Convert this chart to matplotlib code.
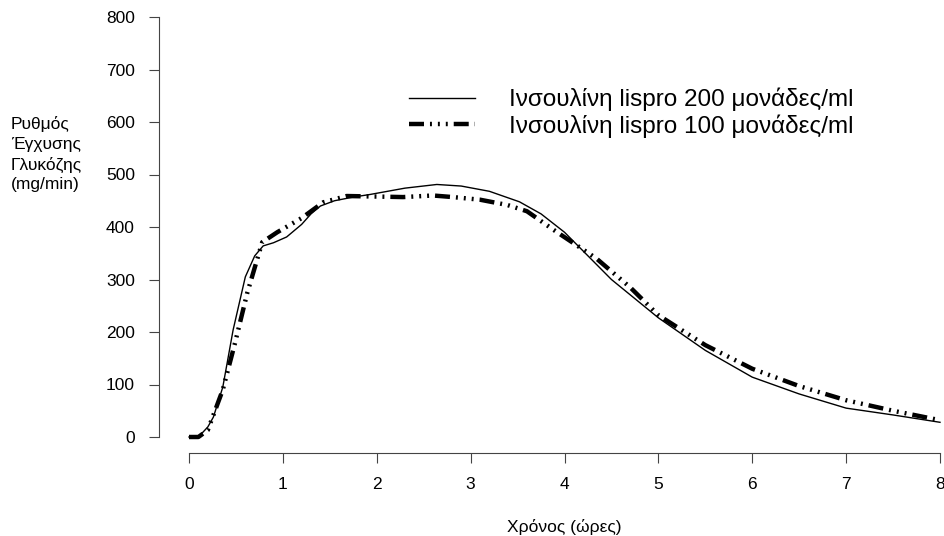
import matplotlib
matplotlib.use('Agg')
import matplotlib.pyplot as plt

plt.rcParams['font.family'] = ['Liberation Sans', 'DejaVu Sans']
plt.rcParams['lines.scale_dashes'] = False

# ώρες / mg/min
hours_200 = [0, 0.1, 0.2, 0.26, 0.36, 0.47, 0.6, 0.7, 0.79, 0.9, 1.04, 1.2, 1.3, 1.4,
             1.55, 1.75, 1.93, 2.3, 2.64, 2.9, 3.2, 3.52, 3.75, 4.0, 4.5, 5.0,
             5.5, 6.0, 6.5, 7.0, 7.5, 8.0]
gir_200 = [0, 0, 19, 38, 95, 204, 305, 345, 364, 370, 381, 405, 425, 440,
           450, 457, 462, 474, 481, 478, 468, 448, 425, 390, 300, 227,
           165, 114, 82, 55, 42, 28]

hours_100 = [0, 0.1, 0.2, 0.36, 0.49, 0.62, 0.78, 0.94, 1.2, 1.43, 1.68, 2.0, 2.28,
             2.6, 2.81, 3.1, 3.39, 3.6, 3.88, 4.34, 4.7, 5.0, 5.5, 6.0, 6.5, 7.0,
             7.5, 8.0]
gir_100 = [0, 0, 13, 90, 179, 274, 371, 390, 417, 447, 459, 458, 457,
           460, 457, 452, 442, 430, 395, 340, 285, 232, 175, 130, 97, 70,
           50, 32]

labels = ["Ινσουλίνη lispro 200 μονάδες/ml", "Ινσουλίνη lispro 100 μονάδες/ml"]

fig = plt.figure(figsize=(9.45, 5.36), dpi=100)
ax = fig.add_axes([189 / 945, (536 - 437) / 536, (940 - 189) / 945, 420 / 536])

ax.plot(hours_200, gir_200, color='black', lw=1.0, label=labels[0], clip_on=False)
ax.plot(hours_100, gir_100, color='black', lw=3.2, label=labels[1], clip_on=False,
        dashes=(10.8, 4.3, 1.4, 4.3, 1.4, 4.3, 1.4, 4.3))

ax.set_xlim(0, 8)
ax.set_ylim(0, 800)
ax.set_xticks(range(0, 9))
ax.set_yticks(range(0, 801, 100))
ax.tick_params(labelsize=12.5, length=7, width=0.8, color='#444444', pad=10.5)

for s in ['top', 'right']:
    ax.spines[s].set_visible(False)
ax.spines['left'].set_position(('outward', 21.5))
ax.spines['bottom'].set_position(('outward', 11.5))
ax.spines['left'].set_color('#444444')
ax.spines['bottom'].set_color('#444444')

ax.set_xlabel("Χρόνος (ώρες)", fontsize=12.5, labelpad=19)
fig.text(11 / 945, 1 - 116 / 536, "Ρυθμός\nΈγχυσης\nΓλυκόζης\n(mg/min)",
         fontsize=12.5, ha='left', va='top', linespacing=1.38)

ax.legend(loc='upper left', bbox_to_anchor=(0.28, 0.855), frameon=False,
          fontsize=17.5, handlelength=2.7, handletextpad=1.4, labelspacing=0.12,
          borderaxespad=0)

fig.savefig('out.png', dpi=100)
